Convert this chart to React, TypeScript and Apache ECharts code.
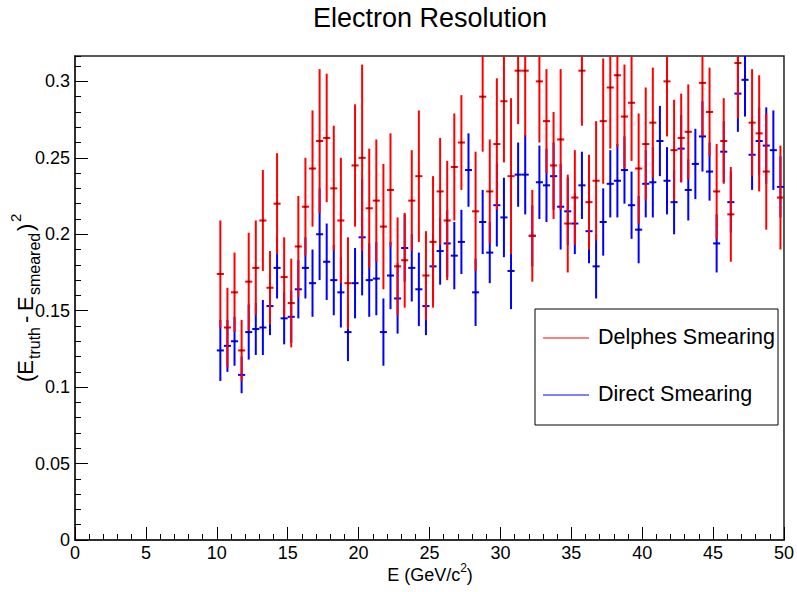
import { useEffect, useRef } from "react";
import * as echarts from "echarts";

// Bin centres (GeV/c^2)
const energy = [
  10.25, 10.75, 11.25, 11.75, 12.25, 12.75, 13.25, 13.75, 14.25, 14.75,
  15.25, 15.75, 16.25, 16.75, 17.25, 17.75, 18.25, 18.75, 19.25, 19.75,
  20.25, 20.75, 21.25, 21.75, 22.25, 22.75, 23.25, 23.75, 24.25, 24.75,
  25.25, 25.75, 26.25, 26.75, 27.25, 27.75, 28.25, 28.75, 29.25, 29.75,
  30.25, 30.75, 31.25, 31.75, 32.25, 32.75, 33.25, 33.75, 34.25, 34.75,
  35.25, 35.75, 36.25, 36.75, 37.25, 37.75, 38.25, 38.75, 39.25, 39.75,
  40.25, 40.75, 41.25, 41.75, 42.25, 42.75, 43.25, 43.75, 44.25, 44.75,
  45.25, 45.75, 46.25, 46.75, 47.25, 47.75, 48.25, 48.75, 49.25, 49.75,
];

// Delphes Smearing (red)
const delphesValues = [
  0.174, 0.139, 0.162, 0.124, 0.169, 0.178, 0.209, 0.165, 0.220, 0.172,
  0.155, 0.192, 0.218, 0.243, 0.261, 0.263, 0.230, 0.209, 0.168, 0.245,
  0.250, 0.217, 0.222, 0.205, 0.229, 0.179, 0.183, 0.222, 0.238, 0.173,
  0.195, 0.228, 0.209, 0.244, 0.260, 0.340, 0.215, 0.290, 0.228, 0.259,
  0.287, 0.238, 0.307, 0.307, 0.199, 0.300, 0.274, 0.245, 0.262, 0.207,
  0.224, 0.307, 0.221, 0.235, 0.274, 0.296, 0.304, 0.277, 0.286, 0.243,
  0.259, 0.273, 0.350, 0.300, 0.255, 0.263, 0.267, 0.350, 0.299, 0.280,
  0.228, 0.261, 0.213, 0.312, 0.360, 0.273, 0.266, 0.241, 0.350, 0.224,
];
const delphesErrors = [
  0.035, 0.026, 0.026, 0.020, 0.032, 0.031, 0.033, 0.024, 0.033, 0.026,
  0.029, 0.033, 0.032, 0.038, 0.047, 0.042, 0.041, 0.041, 0.030, 0.040,
  0.061, 0.039, 0.040, 0.041, 0.037, 0.032, 0.031, 0.033, 0.043, 0.029,
  0.043, 0.035, 0.039, 0.035, 0.031, 0.020, 0.039, 0.036, 0.034, 0.043,
  0.040, 0.051, 0.035, 0.043, 0.030, 0.040, 0.034, 0.035, 0.046, 0.032,
  0.031, 0.036, 0.031, 0.039, 0.041, 0.040, 0.047, 0.034, 0.038, 0.036,
  0.037, 0.036, 0.030, 0.036, 0.033, 0.029, 0.031, 0.030, 0.035, 0.029,
  0.031, 0.028, 0.031, 0.036, 0.030, 0.035, 0.038, 0.038, 0.030, 0.034,
];

// Direct Smearing (blue)
const directValues = [
  0.124, 0.127, 0.130, 0.108, 0.136, 0.138, 0.139, 0.153, 0.178, 0.145,
  0.146, 0.164, 0.178, 0.168, 0.200, 0.182, 0.170, 0.162, 0.136, 0.168,
  0.198, 0.170, 0.171, 0.136, 0.173, 0.158, 0.191, 0.178, 0.164, 0.153,
  0.179, 0.189, 0.194, 0.186, 0.195, 0.242, 0.162, 0.208, 0.188, 0.219,
  0.211, 0.176, 0.239, 0.239, 0.199, 0.234, 0.232, 0.238, 0.218, 0.215,
  0.207, 0.232, 0.202, 0.179, 0.208, 0.233, 0.235, 0.242, 0.219, 0.203,
  0.233, 0.234, 0.261, 0.235, 0.221, 0.256, 0.229, 0.246, 0.264, 0.241,
  0.194, 0.254, 0.221, 0.292, 0.301, 0.252, 0.261, 0.258, 0.255, 0.231,
];
const directErrors = [
  0.020, 0.017, 0.016, 0.012, 0.018, 0.017, 0.018, 0.019, 0.020, 0.017,
  0.017, 0.019, 0.020, 0.022, 0.030, 0.025, 0.023, 0.023, 0.019, 0.023,
  0.038, 0.024, 0.024, 0.022, 0.022, 0.023, 0.022, 0.022, 0.024, 0.019,
  0.022, 0.022, 0.022, 0.022, 0.021, 0.024, 0.022, 0.021, 0.020, 0.027,
  0.026, 0.025, 0.021, 0.026, 0.020, 0.024, 0.024, 0.022, 0.028, 0.022,
  0.020, 0.022, 0.021, 0.021, 0.022, 0.022, 0.024, 0.022, 0.022, 0.022,
  0.022, 0.023, 0.023, 0.022, 0.021, 0.022, 0.020, 0.023, 0.023, 0.019,
  0.019, 0.020, 0.020, 0.025, 0.024, 0.023, 0.022, 0.025, 0.026, 0.020,
];

const binHalfWidth = 0.25;
const xMin = 0;
const xMax = 50;
const yMin = 0;
const yMax = 0.3166;

const FONT = "'Liberation Sans', Arial, Helvetica, sans-serif";

function makeRenderItem(color: string) {
  return (_params: any, api: any) => {
    const x = api.value(0);
    const y = api.value(1);
    const e = api.value(2);
    const c = api.coord([x, y]);
    const top = api.coord([x, y + e]);
    const bot = api.coord([x, y - e]);
    const l = api.coord([x - binHalfWidth, y]);
    const r = api.coord([x + binHalfWidth, y]);
    return {
      type: "group",
      children: [
        {
          type: "line",
          shape: { x1: c[0], y1: top[1], x2: c[0], y2: bot[1] },
          style: { stroke: color, lineWidth: 2 },
        },
        {
          type: "line",
          shape: { x1: l[0], y1: c[1], x2: r[0], y2: c[1] },
          style: { stroke: color, lineWidth: 2 },
        },
        {
          type: "rect",
          shape: { x: c[0] - 1, y: c[1] - 1, width: 2, height: 2 },
          style: { fill: "#000", opacity: 0.55 },
        },
      ],
    };
  };
}

function txt(text: string, x: number, y: number, size: number) {
  return {
    type: "text",
    x,
    y,
    style: {
      text,
      fontSize: size,
      fontFamily: FONT,
      fill: "#000",
      align: "left",
      verticalAlign: "middle",
    },
  };
}

export default function App() {
  const ref = useRef<HTMLDivElement>(null);

  useEffect(() => {
    if (!ref.current) return;
    const chart = echarts.init(ref.current, null, { renderer: "svg" });

    const delphesData = energy.map((x, i) => [x, delphesValues[i], delphesErrors[i]]);
    const directData = energy.map((x, i) => [x, directValues[i], directErrors[i]]);

    const labelStyle = { color: "#000", fontSize: 18, fontFamily: FONT };

    chart.setOption({
      animation: false,
      backgroundColor: "#fff",
      grid: {
        left: 75,
        right: 11,
        top: 56,
        bottom: 52,
        show: true,
        borderColor: "#222",
        borderWidth: 1.5,
        backgroundColor: "transparent",
      },
      xAxis: {
        type: "value",
        min: xMin,
        max: xMax,
        interval: 5,
        axisLine: { show: true, onZero: false, lineStyle: { color: "#222", width: 1.5 } },
        axisTick: { show: true, inside: true, length: 13, lineStyle: { color: "#000", width: 1 } },
        minorTick: { show: true, splitNumber: 5, length: 6, lineStyle: { color: "#000", width: 1 } },
        splitLine: { show: false },
        minorSplitLine: { show: false },
        axisLabel: { ...labelStyle, margin: 4 },
      },
      yAxis: [
        {
          type: "value",
          min: yMin,
          max: yMax,
          interval: 0.01,
          axisLine: { show: true, onZero: false, lineStyle: { color: "#222", width: 1.5 } },
          axisTick: { show: true, inside: true, length: 6, lineStyle: { color: "#000", width: 1 } },
          axisLabel: { show: false },
          splitLine: { show: false },
        },
        {
          type: "value",
          position: "left",
          min: yMin,
          max: yMax,
          interval: 0.05,
          axisLine: { show: false },
          axisTick: { show: true, inside: true, length: 13, lineStyle: { color: "#000", width: 1 } },
          splitLine: { show: false },
          axisLabel: {
            ...labelStyle,
            margin: 5,
            showMaxLabel: false,
            formatter: (v: number) => (v > 0.3001 ? "" : v === 0 ? "0" : String(+v.toFixed(2))),
          },
        },
      ],
      series: [
        {
          type: "custom",
          name: "Direct Smearing",
          xAxisIndex: 0,
          yAxisIndex: 0,
          clip: true,
          renderItem: makeRenderItem("#0000ff"),
          data: directData,
          z: 2,
        },
        {
          type: "custom",
          name: "Delphes Smearing",
          xAxisIndex: 0,
          yAxisIndex: 0,
          clip: true,
          renderItem: makeRenderItem("#ff0000"),
          data: delphesData,
          z: 3,
        },
      ],
      graphic: [
        {
          type: "text",
          x: 430,
          y: 18,
          style: {
            text: "Electron Resolution",
            fontSize: 27,
            fontFamily: FONT,
            fill: "#000",
            align: "center",
            verticalAlign: "middle",
          },
        },
        {
          type: "text",
          x: 430,
          y: 575,
          style: {
            text: "{m|E (GeV/c}{sup|2}{m|)}",
            fontFamily: FONT,
            fill: "#000",
            align: "center",
            verticalAlign: "middle",
            rich: {
              m: { fontSize: 18, lineHeight: 26, verticalAlign: "middle", fontFamily: FONT, fill: "#000" },
              sup: { fontSize: 12, lineHeight: 26, verticalAlign: "top", fontFamily: FONT, fill: "#000" },
            },
          },
        },
        {
          // y-axis title, reads bottom to top
          type: "group",
          x: 25,
          y: 382,
          rotation: Math.PI / 2,
          children: [
            txt("(E", 0, 0, 22),
            txt("truth", 23, 9, 16),
            txt("-", 59, 0, 22),
            txt("E", 71, 0, 22),
            txt("smeared", 87, 9, 16),
            txt(")", 151, 0, 22),
            txt("2", 160, -10, 15),
          ],
        },
        {
          type: "group",
          z: 100,
          children: [
            {
              type: "rect",
              shape: { x: 535, y: 309, width: 243, height: 116 },
              style: { fill: "#fff", stroke: "#000", lineWidth: 1 },
            },
            {
              type: "line",
              shape: { x1: 543, y1: 338, x2: 589, y2: 338 },
              style: { stroke: "#ff0000", lineWidth: 1 },
            },
            {
              type: "text",
              x: 598,
              y: 337,
              style: {
                text: "Delphes Smearing",
                fontSize: 21.5,
                fontFamily: FONT,
                fill: "#000",
                align: "left",
                verticalAlign: "middle",
              },
            },
            {
              type: "line",
              shape: { x1: 543, y1: 395, x2: 589, y2: 395 },
              style: { stroke: "#0000ff", lineWidth: 1 },
            },
            {
              type: "text",
              x: 598,
              y: 394,
              style: {
                text: "Direct Smearing",
                fontSize: 21.5,
                fontFamily: FONT,
                fill: "#000",
                align: "left",
                verticalAlign: "middle",
              },
            },
          ],
        },
      ],
    });

    return () => chart.dispose();
  }, []);

  return (
    <div
      ref={ref}
      style={{ position: "fixed", left: 0, top: 0, width: 797, height: 592, background: "#fff" }}
    />
  );
}
